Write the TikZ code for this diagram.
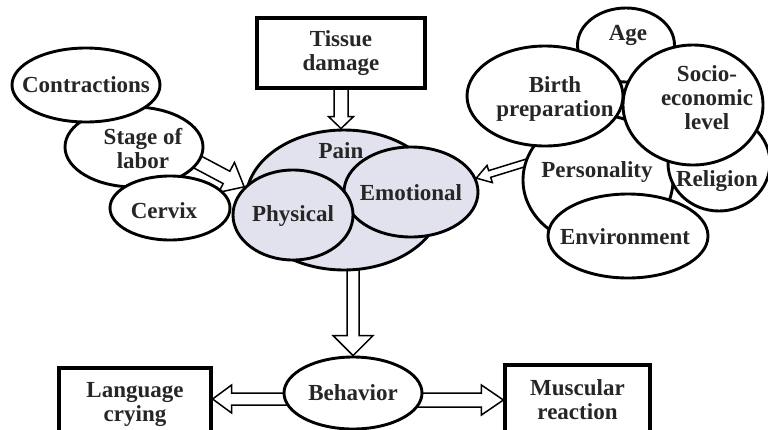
\documentclass[tikz,border=0pt]{standalone}
\usepackage{fontspec}
\setmainfont{Liberation Serif}
\usetikzlibrary{shapes.geometric,calc}
\pgfdeclarelayer{bg}
\pgfsetlayers{bg,main}
\definecolor{painc}{RGB}{226,226,238}
\definecolor{txt}{RGB}{38,38,38}
\newcommand\harrow[5]{%
  \coordinate (hab) at ($(#2)!#5!(#1)$);
  \draw[harrowline] ($(#1)!#3!90:(#2)$) -- ($(hab)!#3!-90:(#1)$) -- ($(hab)!#4!-90:(#1)$) -- (#2) -- ($(hab)!#4!90:(#1)$) -- ($(hab)!#3!90:(#1)$) -- ($(#1)!#3!-90:(#2)$);
}
\tikzset{
  oval/.style={ellipse, draw=black, line width=2.9pt, fill=white, inner sep=0pt},
  box/.style={rectangle, draw=black, line width=3.2pt, fill=white, inner sep=0pt},
  lbl/.style={align=center, text=txt, font=\fontsize{23}{24}\selectfont\bfseries},
  harrowline/.style={draw=black, line width=1.5pt, fill=white, line join=miter}
}
\begin{document}
\begin{tikzpicture}[x=1pt,y=-1pt]
\useasboundingbox (0,0) rectangle (768,429);
\clip (0,0) rectangle (768,429);

% left group
\node[oval, minimum width=138pt, minimum height=80pt] (stage) at (134,147) {};
\node[oval, minimum width=148pt, minimum height=74pt] (contr) at (86,85) {};
\node[oval, minimum width=120pt, minimum height=64pt] (cervix) at (170,208) {};
\node[lbl] (contr-t) at (86,85) {Contractions};
\node[lbl] (stage-t) at (143,149) {Stage of\\labor};
\node[lbl] (cervix-t) at (164,211) {Cervix};

% tissue damage
\node[box, lbl, minimum width=168pt, minimum height=70pt] (tissue) at (341,53) {Tissue\\damage};

% pain group
\node[oval, fill=painc, minimum width=196pt, minimum height=140pt] (pain) at (344,200) {};
\node[oval, fill=painc, minimum width=134pt, minimum height=90pt] (emotional) at (411,192) {};
\node[oval, fill=painc, minimum width=120pt, minimum height=90pt] (physical) at (293,215) {};
\node[lbl] (pain-t) at (341,151) {Pain};
\node[lbl] (emotional-t) at (411,193) {Emotional};
\node[lbl] (physical-t) at (293,216) {Physical};

% right group
\node[oval, minimum width=97pt, minimum height=74pt] (age) at (626,45) {};
\node[oval, minimum width=150pt, minimum height=130pt] (person) at (598,180) {};
\node[oval, minimum width=102pt, minimum height=96pt] (religion) at (719,163) {};
\node[oval, minimum width=140pt, minimum height=120pt] (socio) at (693,105) {};
\node[oval, minimum width=156pt, minimum height=100pt] (birth) at (545,96) {};
\node[oval, minimum width=160pt, minimum height=84pt] (environ) at (628,236) {};
\node[lbl] (age-t) at (628,35) {Age};
\node[lbl] (person-t) at (597,172) {Personality};
\node[lbl] (religion-t) at (717,181) {Religion};
\node[lbl] (socio-t) at (707,98) {Socio-\\economic\\level};
\node[lbl] (birth-t) at (555,99) {Birth\\preparation};
\node[lbl] (environ-t) at (625,237) {Environment};

% bottom row
\node[box, lbl, minimum width=152pt, minimum height=72pt] (lang) at (135,404) {Language\\crying};
\node[oval, lbl, minimum width=138pt, minimum height=72pt] (behav) at (353,393) {Behavior};
\node[box, lbl, minimum width=145pt, minimum height=70pt] (musc) at (577.5,400) {Muscular\\reaction};

% hollow arrows
\begin{pgfonlayer}{bg}
\fill[white] (0,0) rectangle (768,429);
\coordinate (a1s) at ($(tissue.south)+(0,-6)$);
\coordinate (a1e) at (tissue.south |- pain.north);
\harrow{a1s}{a1e}{7pt}{12.5pt}{12pt}
\coordinate (a2s) at (190,158);
\harrow{a2s}{physical.150}{7pt}{17pt}{20pt}
\coordinate (a3s) at (535,160);
\harrow{a3s}{emotional.12}{3.5pt}{9pt}{14pt}
\coordinate (a4s) at ($(behav.north |- pain.south)+(0,-15)$);
\harrow{a4s}{behav.north}{6pt}{20pt}{20pt}
\coordinate (a5s) at (320,399);
\coordinate (a5e) at (lang.east |- a5s);
\harrow{a5s}{a5e}{6pt}{14pt}{19pt}
\coordinate (a6s) at (390,400);
\coordinate (a6e) at (musc.west |- a6s);
\harrow{a6s}{a6e}{7pt}{15pt}{22pt}
\end{pgfonlayer}
\end{tikzpicture}
\end{document}
